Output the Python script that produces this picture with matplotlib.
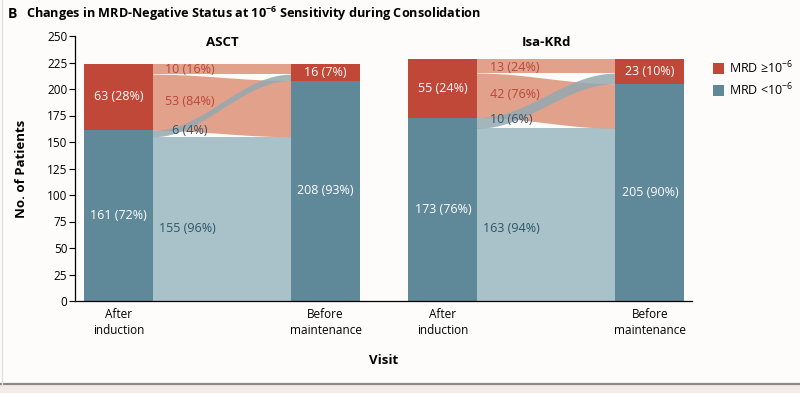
import numpy as np
import matplotlib
matplotlib.use("Agg")
import matplotlib.pyplot as plt
from matplotlib.patches import Rectangle
from matplotlib.lines import Line2D

FONT = "Open Sans"
plt.rcParams['font.family'] = [FONT, 'DejaVu Sans']
plt.rcParams['mathtext.fontset'] = 'custom'
plt.rcParams['mathtext.rm'] = FONT
plt.rcParams['mathtext.it'] = FONT
plt.rcParams['mathtext.bf'] = FONT + ':bold'

# ---------------- data ----------------
groups = ["ASCT", "Isa-KRd"]
visits = ["After\ninduction", "Before\nmaintenance"]
# after induction: negative (<1e-6), positive (>=1e-6)
induction_neg = [161, 173]
induction_pos = [63, 55]
induction_neg_pct = [72, 76]
induction_pos_pct = [28, 24]
# before maintenance
maint_neg = [208, 205]
maint_pos = [16, 23]
maint_neg_pct = [93, 90]
maint_pos_pct = [7, 10]
# flows
neg_to_neg = [155, 163]
neg_to_pos = [6, 10]
pos_to_neg = [53, 42]
pos_to_pos = [10, 13]
neg_to_neg_pct = [96, 94]
neg_to_pos_pct = [4, 6]
pos_to_neg_pct = [84, 76]
pos_to_pos_pct = [16, 24]
yticks = list(range(0, 251, 25))

# ---------------- style ----------------
RED = "#bf4838"
DBLUE = "#5f8899"
LBLUE = "#a9c1c8"
ORANGE = "#e1a18b"
CROSS = "#95a9b1"
RED_TXT = "#b9473a"
BLUE_TXT = "#2e5566"
BG = "#fefcfa"

fig = plt.figure(figsize=(8.0, 3.93), dpi=100, facecolor=BG)
ax = fig.add_axes([75/800, (393-301)/393, 617/800, 265/393])
ax.set_facecolor(BG)

bw = 1.0
centers = [(0.0, 3.0), (4.7, 7.7)]

def smooth(t):
    return (1 - np.cos(np.pi * t)) / 2

for g in range(2):
    xl, xr = centers[g]
    x0, x1 = xl + bw/2, xr - bw/2
    # flows (drawn slightly under the bars to avoid seams)
    xs = np.concatenate([[x0 - 0.05], np.linspace(x0, x1, 300), [x1 + 0.05]])
    s = smooth(np.clip((xs - x0) / (x1 - x0), 0, 1))

    def band(l0, l1, h, **kw):
        lo = l0 + (l1 - l0) * s
        ax.fill_between(xs, lo, lo + h, linewidth=0, zorder=1, **kw)

    band(0, 0, neg_to_neg[g], color=LBLUE)
    band(induction_neg[g], neg_to_neg[g], pos_to_neg[g], color=ORANGE)
    band(induction_neg[g] + pos_to_neg[g], maint_neg[g] + neg_to_pos[g], pos_to_pos[g], color=ORANGE)
    band(neg_to_neg[g], maint_neg[g], neg_to_pos[g], color=CROSS, alpha=0.85)

    # bars
    ax.bar(xl, induction_neg[g], width=bw, color=DBLUE, linewidth=0, zorder=2)
    ax.bar(xl, induction_pos[g], bottom=induction_neg[g], width=bw, color=RED, linewidth=0, zorder=2)
    ax.bar(xr, maint_neg[g], width=bw, color=DBLUE, linewidth=0, zorder=2)
    ax.bar(xr, maint_pos[g], bottom=maint_neg[g], width=bw, color=RED, linewidth=0, zorder=2)

    # bar labels
    ax.text(xl, induction_neg[g]/2, f"{induction_neg[g]} ({induction_neg_pct[g]}%)",
            ha="center", va="center", color="white", fontsize=9, zorder=3)
    ax.text(xl, induction_neg[g] + induction_pos[g]/2, f"{induction_pos[g]} ({induction_pos_pct[g]}%)",
            ha="center", va="center", color="white", fontsize=9, zorder=3)
    ax.text(xr, maint_neg[g]/2, f"{maint_neg[g]} ({maint_neg_pct[g]}%)",
            ha="center", va="center", color="white", fontsize=9, zorder=3)
    ax.text(xr, maint_neg[g] + maint_pos[g]/2, f"{maint_pos[g]} ({maint_pos_pct[g]}%)",
            ha="center", va="center", color="white", fontsize=9, zorder=3)

    # flow labels
    fx = x0 + 0.18
    ax.text(fx, induction_neg[g] + pos_to_neg[g] + pos_to_pos[g]/2 - 1,
            f"{pos_to_pos[g]} ({pos_to_pos_pct[g]}%)", ha="left", va="center", color=RED_TXT, fontsize=9, zorder=3)
    ax.text(fx, induction_neg[g] + pos_to_neg[g]/2 + 1,
            f"{pos_to_neg[g]} ({pos_to_neg_pct[g]}%)", ha="left", va="center", color=RED_TXT, fontsize=9, zorder=3)
    ax.text(fx + (0.1 if g == 0 else 0.0), neg_to_neg[g] + neg_to_pos[g]/2 + 3,
            f"{neg_to_pos[g]} ({neg_to_pos_pct[g]}%)", ha="left", va="center", color=BLUE_TXT, fontsize=9, zorder=3)
    ax.text(x0 + 0.08, 68.5,
            f"{neg_to_neg[g]} ({neg_to_neg_pct[g]}%)", ha="left", va="center", color=BLUE_TXT, fontsize=9, zorder=3)

    # group title
    ax.text((xl + xr)/2, 244, groups[g], ha="center", va="center", fontsize=9.5,
            fontweight="bold", clip_on=False)

ax.set_xlim(-0.63, 8.31)
ax.set_ylim(0, 250)
ax.set_yticks(yticks)
ax.set_xticks([c for pair in centers for c in pair])
ax.set_xticklabels(visits * 2, fontsize=8.5, linespacing=1.3)
ax.tick_params(axis="y", labelsize=8.5, direction="out", length=4, width=0.8, pad=1.5)
ax.tick_params(axis="x", length=0, pad=5)
for sp in ["top", "right"]:
    ax.spines[sp].set_visible(False)
ax.spines["left"].set_linewidth(0.9)
ax.spines["bottom"].set_linewidth(0.9)
ax.spines["bottom"].set_zorder(4)
ax.set_ylabel("No. of Patients", fontsize=9.5, fontweight="bold", labelpad=14)
ax.set_xlabel("Visit", fontsize=9.5, fontweight="bold", labelpad=12)

# legend
fig.patches.append(Rectangle((713/800, 1 - 74/393), 11/800, 11/393, transform=fig.transFigure,
                             color=RED, linewidth=0))
fig.patches.append(Rectangle((713/800, 1 - 96/393), 11/800, 11/393, transform=fig.transFigure,
                             color=DBLUE, linewidth=0))
fig.text(729/800, 1 - 68/393, "MRD \u226510$^{-6}$", fontsize=9, va="center", ha="left")
fig.text(729/800, 1 - 90/393, "MRD <10$^{-6}$", fontsize=9, va="center", ha="left")

# title
fig.text(8/800, 1 - 14/393, "B", fontsize=10, fontweight="bold", va="center", ha="left")
fig.text(26/800, 1 - 14/393, r"Changes in MRD-Negative Status at 10$^{\mathbf{-6}}$ Sensitivity during Consolidation",
         fontsize=9.1, fontweight="bold", va="center", ha="left")

# bottom rule and band, left edge line
fig.lines.append(Line2D([0, 1], [1 - 384/393]*2, transform=fig.transFigure, color="#8d8884", linewidth=1.6))
fig.patches.append(Rectangle((0, 0), 1, 8/393, transform=fig.transFigure, color="#f3ebe6", linewidth=0))
fig.lines.append(Line2D([1.5/800]*2, [8/393, 1], transform=fig.transFigure, color="#e4e0dc", linewidth=1))

fig.savefig("out.png", dpi=100, facecolor=BG)
